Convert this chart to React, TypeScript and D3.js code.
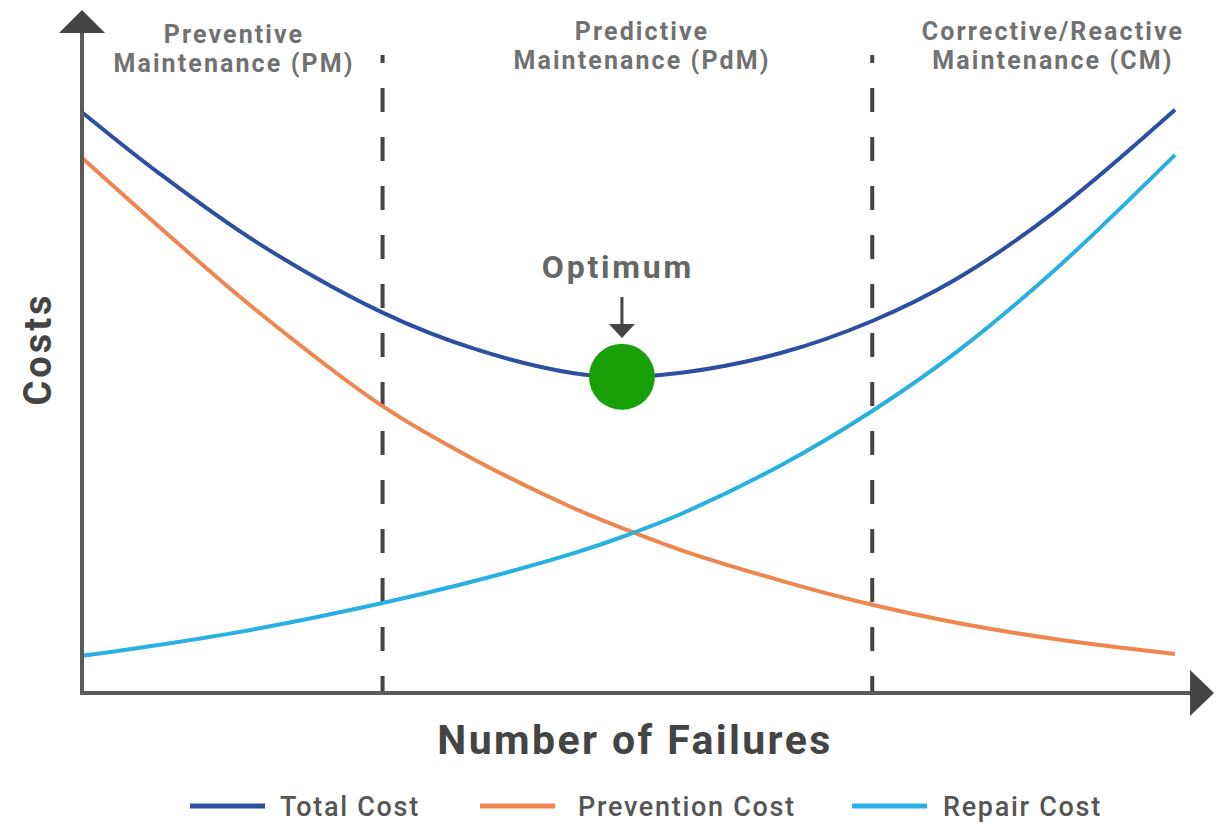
import { useMemo } from "react";
import * as d3 from "d3";

const WIDTH = 1217;
const HEIGHT = 829;

// number of failures (relative scale 0..100)
const failures = [0, 7, 16, 27.5, 36, 45, 49.4, 55, 64, 72.3, 80, 89, 100];
// cost values (relative units)
const totalCost = [96.8, 86.7, 75.1, 63.4, 57.3, 53.3, 52.7, 53.4, 56.7, 62.0, 69.0, 80.2, 97.2];
const preventionCost = [89.2, 77.8, 63.7, 47.8, 38.8, 30.8, 27.5, 23.7, 18.7, 14.7, 11.7, 9.0, 6.5];
const repairCost = [6.2, 8.0, 10.7, 15.0, 18.7, 23.3, 26.0, 30.0, 38.0, 47.0, 56.8, 70.5, 89.7];

const seriesNames = ["Total Cost", "Prevention Cost", "Repair Cost"];
const seriesColors = ["#2c4fa2", "#ef8650", "#28b0e3"];

const boundaries = [27.5, 72.3];
const optimumX = 49.4;
const optimumY = 52.7;

const regionLabels = [
  ["Preventive", "Maintenance (PM)"],
  ["Predictive", "Maintenance (PdM)"],
  ["Corrective/Reactive", "Maintenance (CM)"],
];
const regionLabelX = [234, 642, 1053];
const regionLabelY = [43, 40, 40];

const AXIS_X = 82;
const AXIS_Y = 693;

export default function App() {
  const xScale = d3.scaleLinear().domain([0, 100]).range([82, 1175]);
  const yScale = d3.scaleLinear().domain([0, 100]).range([AXIS_Y, 93]);

  const series = [totalCost, preventionCost, repairCost];

  const lineBuilder = useMemo(
    () =>
      d3
        .line<number>()
        .x((_, i) => xScale(failures[i]))
        .y((d) => yScale(d))
        .curve(d3.curveCatmullRom.alpha(0.5)),
    []
  );

  const font = "Roboto, 'Liberation Sans', Arial, sans-serif";

  return (
    <svg
      width={WIDTH}
      height={HEIGHT}
      style={{ position: "absolute", left: 0, top: 0, background: "#fff" }}
    >
      {/* region separators */}
      {boundaries.map((b, i) => (
        <line
          key={i}
          x1={xScale(b)}
          x2={xScale(b)}
          y1={55}
          y2={AXIS_Y}
          stroke="#444"
          strokeWidth={4}
          strokeDasharray="24 25"
          strokeDashoffset={16}
        />
      ))}

      {/* region labels */}
      {regionLabels.map((lines, i) => (
        <text
          key={i}
          x={regionLabelX[i]}
          y={regionLabelY[i]}
          textAnchor="middle"
          fontFamily={font}
          fontWeight={700}
          fontSize={25}
          letterSpacing={2.1}
          fill="#717171"
        >
          {lines.map((t, j) => (
            <tspan key={j} x={regionLabelX[i]} dy={j === 0 ? 0 : 29}>
              {t}
            </tspan>
          ))}
        </text>
      ))}

      {/* curves */}
      {series.map((s, i) => (
        <path
          key={i}
          d={lineBuilder(s) || ""}
          fill="none"
          stroke={seriesColors[i]}
          strokeWidth={4}
        />
      ))}

      {/* axes */}
      <line x1={AXIS_X} x2={AXIS_X} y1={30} y2={AXIS_Y + 2} stroke="#5a5a5a" strokeWidth={4} />
      <line x1={AXIS_X - 2} x2={1192} y1={AXIS_Y} y2={AXIS_Y} stroke="#5a5a5a" strokeWidth={4} />
      <path d={`M${AXIS_X},10 L${AXIS_X - 23},33 L${AXIS_X + 23},33 Z`} fill="#444" />
      <path d={`M1214,${AXIS_Y} L1190,${AXIS_Y - 23} L1190,${AXIS_Y + 23} Z`} fill="#444" />

      {/* optimum marker */}
      <circle cx={xScale(optimumX)} cy={yScale(optimumY)} r={33} fill="#18a008" />
      <line
        x1={xScale(optimumX)}
        x2={xScale(optimumX)}
        y1={297}
        y2={328}
        stroke="#444"
        strokeWidth={3}
      />
      <path
        d={`M${xScale(optimumX) - 13},324 L${xScale(optimumX) + 13},324 L${xScale(optimumX)},338 Z`}
        fill="#444"
      />
      <text
        x={xScale(optimumX) - 4}
        y={278}
        textAnchor="middle"
        fontFamily={font}
        fontWeight={700}
        fontSize={32}
        letterSpacing={2.8}
        fill="#666"
      >
        Optimum
      </text>

      {/* axis titles */}
      <text
        transform={`translate(51,349) rotate(-90)`}
        textAnchor="middle"
        fontFamily={font}
        fontWeight={700}
        fontSize={38}
        letterSpacing={3}
        fill="#444"
      >
        Costs
      </text>
      <text
        x={635}
        y={754}
        textAnchor="middle"
        fontFamily={font}
        fontWeight={700}
        fontSize={41}
        letterSpacing={2.4}
        fill="#444"
      >
        Number of Failures
      </text>

      {/* legend */}
      {seriesNames.map((name, i) => {
        const lx = [190, 480, 852][i];
        return (
          <g key={name} transform={`translate(${lx},806)`}>
            <line x1={0} x2={75} y1={0} y2={0} stroke={seriesColors[i]} strokeWidth={5} />
            <text
              x={[90, 98, 91][i]}
              y={10}
              fontFamily={font}
              fontWeight={500}
              fontSize={27}
              letterSpacing={1.7}
              fill="#555"
            >
              {name}
            </text>
          </g>
        );
      })}
    </svg>
  );
}
